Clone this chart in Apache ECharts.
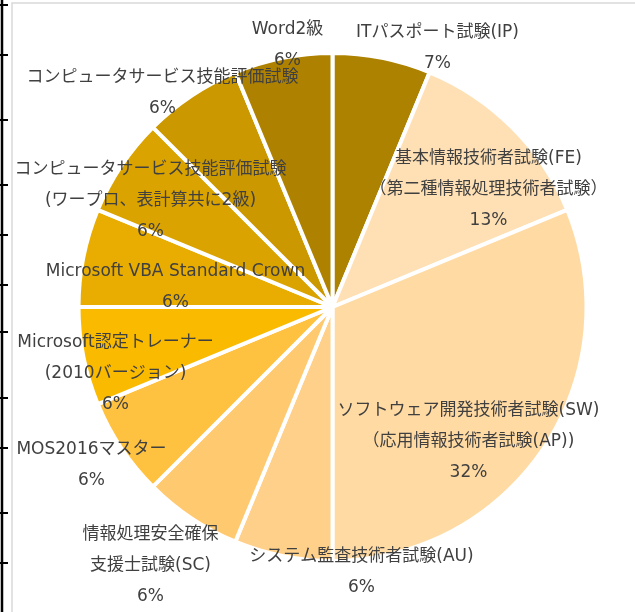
<!DOCTYPE html>
<html>
<head>
<meta charset="utf-8">
<script src="https://cdn.jsdelivr.net/npm/echarts@6/dist/echarts.min.js"></script>
<style>
html,body{margin:0;padding:0;background:#fff;}
#chart{width:635px;height:612px;}
</style>
</head>
<body>
<div id="chart"></div>
<script>
// Categories (clockwise from 12 o'clock)
const categories = [
  'ITパスポート試験(IP)',
  '基本情報技術者試験(FE)\n（第二種情報処理技術者試験）',
  'ソフトウェア開発技術者試験(SW)\n（応用情報技術者試験(AP))',
  'システム監査技術者試験(AU)',
  '情報処理安全確保\n支援士試験(SC)',
  'MOS2016マスター',
  'Microsoft認定トレーナー\n(2010バージョン)',
  'Microsoft VBA Standard Crown',
  'コンピュータサービス技能評価試験\n(ワープロ、表計算共に2級)',
  'コンピュータサービス技能評価試験',
  'Word2級'
];
// Slice shares
const shares = [6.25, 12.5, 31.25, 6.25, 6.25, 6.25, 6.25, 6.25, 6.25, 6.25, 6.25];
// Percent texts as printed on the chart
const percentLabels = ['7%', '13%', '32%', '6%', '6%', '6%', '6%', '6%', '6%', '6%', '6%'];

// Slice colours
const colors = ['#AD8200', '#FFE0B5', '#FFDAA3', '#FFD089', '#FFC970', '#FFC240',
                '#F9BA00', '#E8AD00', '#DAA300', '#CB9800', '#AE8200'];

// Label block centres, relative to the pie centre (layout only)
const labelOffsets = [
  [105, -259], [156, -117], [136, 135], [29, 265], [-182, 259], [-241, 158],
  [-217, 67], [-157, -20], [-182, -106], [-170, -214], [-45, -262]
];

const CX = 332.5, CY = 307;
const sideLines = [5, 55, 120, 185, 235, 285, 332, 398, 448, 513, 563];

const chart = echarts.init(document.getElementById('chart'), null, {renderer: 'canvas'});

const graphics = [
  {type: 'rect', shape: {x: 12, y: 3, width: 700, height: 700},
   style: {fill: 'none', stroke: '#D9D9D9', lineWidth: 1.5}, z: 0},
  {type: 'line', shape: {x1: 2, y1: 0, x2: 2, y2: 612},
   style: {stroke: '#000', lineWidth: 2.5}, z: 0}
];
sideLines.forEach(y => graphics.push({type: 'line', shape: {x1: 0, y1: y, x2: 8, y2: y},
  style: {stroke: '#000', lineWidth: 2}, z: 0}));

chart.setOption({
  animation: false,
  backgroundColor: '#fff',
  color: colors,
  graphic: graphics,
  series: [{
    type: 'pie',
    center: [CX, CY],
    radius: 254,
    startAngle: 90,
    clockwise: true,
    avoidLabelOverlap: false,
    itemStyle: {borderColor: '#fff', borderWidth: 4},
    label: {
      show: true,
      position: 'inside',
      color: '#404040',
      fontFamily: '"DejaVu Sans", "Noto Sans CJK JP", sans-serif',
      fontSize: 17,
      lineHeight: 31,
      align: 'center',
      formatter: p => p.name + '\n' + percentLabels[p.dataIndex]
    },
    labelLine: {show: false},
    labelLayout: p => {
      const o = labelOffsets[p.dataIndex];
      return {x: CX + o[0], y: CY + o[1], align: 'center', verticalAlign: 'middle'};
    },
    emphasis: {disabled: true},
    data: categories.map((n, i) => ({name: n, value: shares[i]}))
  }]
});
</script>
</body>
</html>
